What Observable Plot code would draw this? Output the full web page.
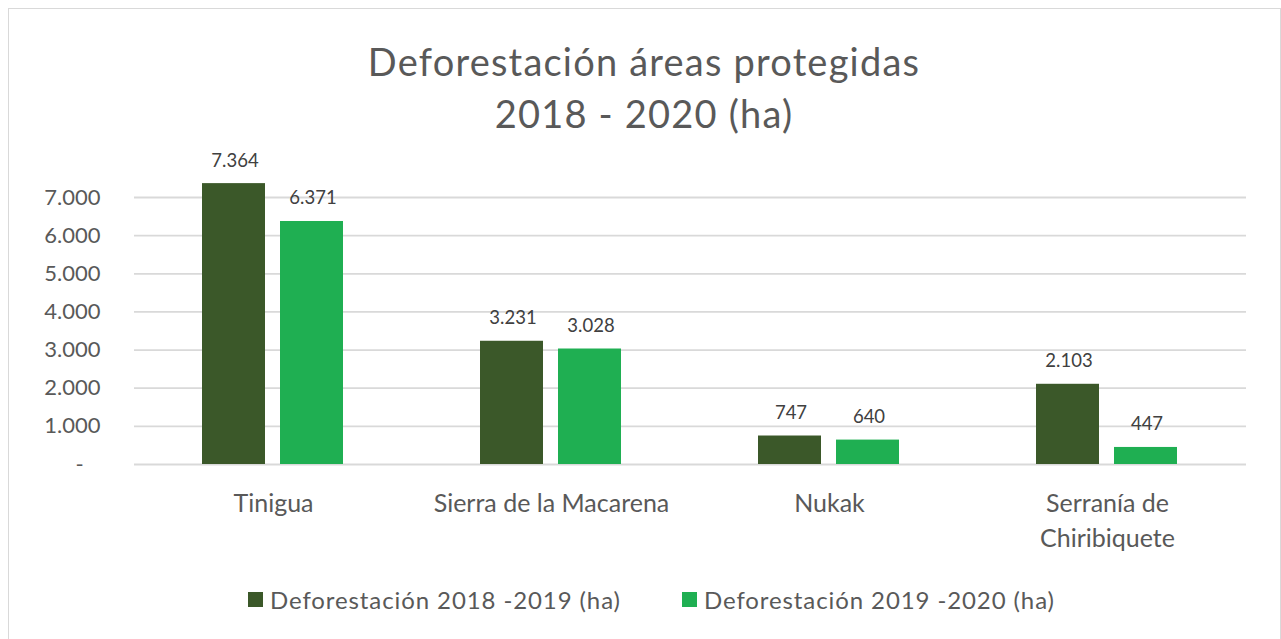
<!DOCTYPE html>
<html>
<head>
<meta charset="utf-8">
<script src="https://cdn.jsdelivr.net/npm/d3@7"></script>
<script src="https://cdn.jsdelivr.net/npm/@observablehq/plot@0.6"></script>
<style>
  html, body { margin: 0; padding: 0; background: #fff; }
  #wrap { position: relative; width: 1281px; height: 639px; overflow: hidden; font-family: Lato, sans-serif; }
  #border { position: absolute; left: 8px; top: 8px; width: 1273px; height: 660px; border: 1px solid #d9d9d9; box-sizing: border-box; pointer-events: none; }
  #title { position: relative; height: 140px; width: 1288px; text-align: center; color: #595959; font-size: 38px; letter-spacing: 1.2px; line-height: 52px; padding-top: 35px; box-sizing: border-box; }
  #chart { height: 420px; }
  #chart svg { display: block; }
  #legend { height: 79px; position: relative; }
  .item { position: absolute; top: 24px; height: 30px; display: flex; align-items: center; color: #595959; font-size: 24px; letter-spacing: 0.9px; white-space: nowrap; }
  .sw { width: 15px; height: 15px; margin-right: 7px; }
</style>
</head>
<body>
<div id="wrap">
  <div id="border"></div>
  <div id="title">Deforestación áreas protegidas<br>2018 - 2020 (ha)</div>
  <div id="chart"></div>
  <div id="legend"></div>
</div>
<script>
const categories = ["Tinigua", "Sierra de la Macarena", "Nukak", "Serranía de Chiribiquete"];
const categoryLabels = ["Tinigua", "Sierra de la Macarena", "Nukak", "Serranía de\nChiribiquete"];
const seriesNames = ["Deforestación 2018 -2019 (ha)", "Deforestación 2019 -2020 (ha)"];
const values2018_2019 = [7364, 3231, 747, 2103];
const values2019_2020 = [6371, 3028, 640, 447];
const colors = ["#3b5829", "#1faf52"];
const yTicks = [0, 1000, 2000, 3000, 4000, 5000, 6000, 7000];

const data = [];
categories.forEach((c, i) => {
  data.push({cat: c, series: seriesNames[0], value: values2018_2019[i]});
  data.push({cat: c, series: seriesNames[1], value: values2019_2020[i]});
});
const labelData = categories.map((c, i) => ({cat: c, label: categoryLabels[i]}));

const fmt = d => d3.format(",")(d).replace(/,/g, ".");

const chart = Plot.plot({
  width: 1281,
  height: 420,
  marginLeft: 133,
  marginRight: 35,
  marginTop: 57,
  marginBottom: 96,
  style: {fontFamily: "Lato, sans-serif", background: "transparent"},
  fx: {domain: categories, padding: 0, axis: null},
  x: {domain: seriesNames, paddingInner: 0.1923, paddingOuter: 0.878, axis: null},
  y: {domain: [0, 7000], axis: null},
  color: {domain: seriesNames, range: colors},
  marks: [
    Plot.ruleY(yTicks, {stroke: "#d9d9d9", strokeWidth: 1.8}),
    Plot.axisY({ticks: yTicks, label: null, tickSize: 0, tickPadding: 34, fontSize: 22, fill: "#595959",
      tickFormat: d => d === 0 ? "-\u00a0\u00a0\u00a0" : fmt(d)}),
    Plot.barY(data, {fx: "cat", x: "series", y: "value", fill: "series"}),
    Plot.text(data, {fx: "cat", x: "series", y: "value", text: d => fmt(d.value), dy: -17, dx: 1,
      lineAnchor: "bottom", fontSize: 18.5, fill: "#404040", style: "letter-spacing: 2.5px"}),
    Plot.text(labelData, {fx: "cat", text: "label", frameAnchor: "bottom", lineAnchor: "top",
      dy: 23, lineHeight: 1.4, fontSize: 25, fill: "#595959", style: "letter-spacing: 1.9px"})
  ]
});
document.getElementById("chart").appendChild(chart);

const legend = document.getElementById("legend");
const lefts = [248, 682];
seriesNames.forEach((s, i) => {
  const it = document.createElement("div");
  it.className = "item";
  it.style.left = lefts[i] + "px";
  const sw = document.createElement("div");
  sw.className = "sw";
  sw.style.background = colors[i];
  const t = document.createElement("span");
  t.textContent = s;
  it.appendChild(sw);
  it.appendChild(t);
  legend.appendChild(it);
});
</script>
</body>
</html>
